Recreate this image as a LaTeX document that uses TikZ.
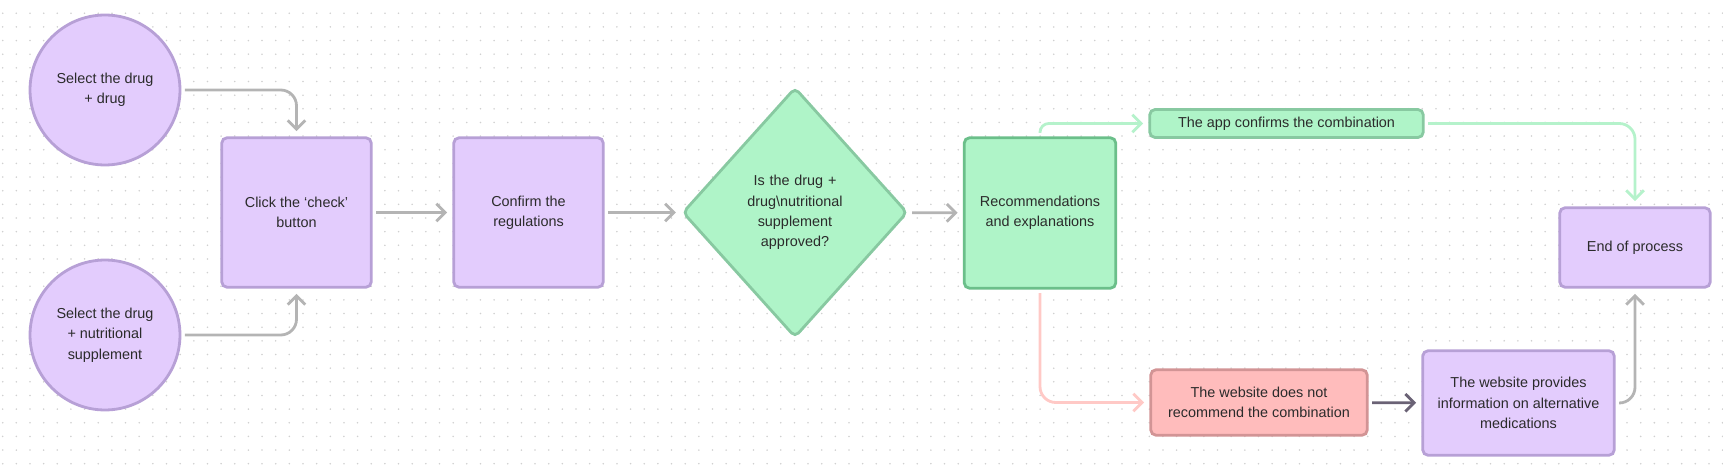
\documentclass[tikz,border=0pt]{standalone}
\usepackage{xcolor}
\usepackage{tikz}
\usepackage{fontspec}
\setmainfont{Liberation Sans}
\usetikzlibrary{shapes.geometric, arrows.meta, positioning, calc}
\definecolor{stepfill}{HTML}{E3CCFD}
\definecolor{stepline}{HTML}{B7A0D6}
\definecolor{okfill}{HTML}{AFF4C8}
\definecolor{okline}{HTML}{88C9A1}
\definecolor{okdark}{HTML}{6BBF8A}
\definecolor{nofill}{HTML}{FFBCBC}
\definecolor{noline}{HTML}{D29495}
\definecolor{flowgray}{HTML}{B4B4B4}
\definecolor{flowgreen}{HTML}{B5F2CB}
\definecolor{flowpink}{HTML}{FFC9C6}
\definecolor{flowdark}{HTML}{6A6275}
\definecolor{griddot}{HTML}{D0D0D0}
\definecolor{labeltext}{HTML}{2B2B2B}

\tikzset{
    base/.style={line width=1.6pt, text=labeltext, align=center, inner sep=0pt,
        font=\fontsize{8.2}{11.6}\selectfont},
    startcircle/.style={base, circle, draw=stepline, fill=stepfill, minimum size=3.0cm},
    stepbox/.style={base, rectangle, rounded corners=3pt, draw=stepline, fill=stepfill},
    okbox/.style={base, rectangle, rounded corners=3pt, draw=okline, fill=okfill},
    nobox/.style={base, rectangle, rounded corners=3pt, draw=noline, fill=nofill},
    decision/.style={base, diamond, rounded corners=3pt, draw=okline, fill=okfill,
        minimum width=4.5cm, minimum height=5.0cm, text width=2.2cm},
    flow/.style={line width=1.6pt, flowgray, rounded corners=9pt,
        -{Straight Barb[length=5pt, width=10pt]}, shorten >=3pt, shorten <=2pt},
}

\begin{document}
\begin{tikzpicture}[x=0.02cm, y=-0.02cm]
    % Canvas size
    \useasboundingbox (0,0) rectangle (1723,469);
    % Dot grid background
    \foreach \gx in {0,...,126}
        \foreach \gy in {0,...,34}
            \fill[griddot] (2.7+\gx*13.65, 13.25+\gy*13.65) circle (0.5pt);

    % Start points
    \node[startcircle] (drugdrug) at (105,90) {Select the drug\\+ drug};
    \node[startcircle] (drugsupp) at (105,335) {Select the drug\\+ nutritional\\supplement};

    % Main steps
    \node[stepbox, minimum width=2.99cm, minimum height=2.99cm] (check) at (296.5,212.5) {Click the ‘check’\\button};
    \node[stepbox, minimum width=2.99cm, minimum height=2.99cm] (regs) at (528.5,212.5) {Confirm the\\regulations};
    \node[decision] (approved) at (795,212.5) {Is the drug +\\drug\textbackslash nutritional\\supplement\\approved?};
    \node[okbox, draw=okdark, minimum width=3.03cm, minimum height=3.01cm] (advice) at (1040,213) {Recommendations\\and explanations};

    % Outcomes
    \node[okbox, minimum width=5.47cm, minimum height=0.56cm] (confirmed) at (1286.5,123.5) {The app confirms the combination};
    \node[nobox, minimum width=4.33cm, minimum height=1.31cm] (notrec) at (1259,402.5) {The website does not\\recommend the combination};
    \node[stepbox, minimum width=3.83cm, minimum height=2.09cm] (altmeds) at (1518.5,403) {The website provides\\information on alternative\\medications};
    \node[stepbox, minimum width=3.01cm, minimum height=1.59cm] (endproc) at (1635,247.5) {End of process};

    % Connectors
    \draw[flow] (drugdrug.east) -| (check.north);
    \draw[flow] (drugsupp.east) -| (check.south);
    \draw[flow] (check) -- (regs);
    \draw[flow] (regs) -- (approved);
    \draw[flow] (approved) -- (advice);
    \draw[flow, flowgreen, rounded corners=5pt] (advice.north) |- (confirmed.west);
    \draw[flow, flowgreen] (confirmed.east) -| (endproc.north);
    \draw[flow, flowpink] (advice.south) |- (notrec.west);
    \draw[flow, flowdark] (notrec) -- (altmeds);
    \draw[flow] (altmeds.east) -| (endproc.south);
\end{tikzpicture}
\end{document}
